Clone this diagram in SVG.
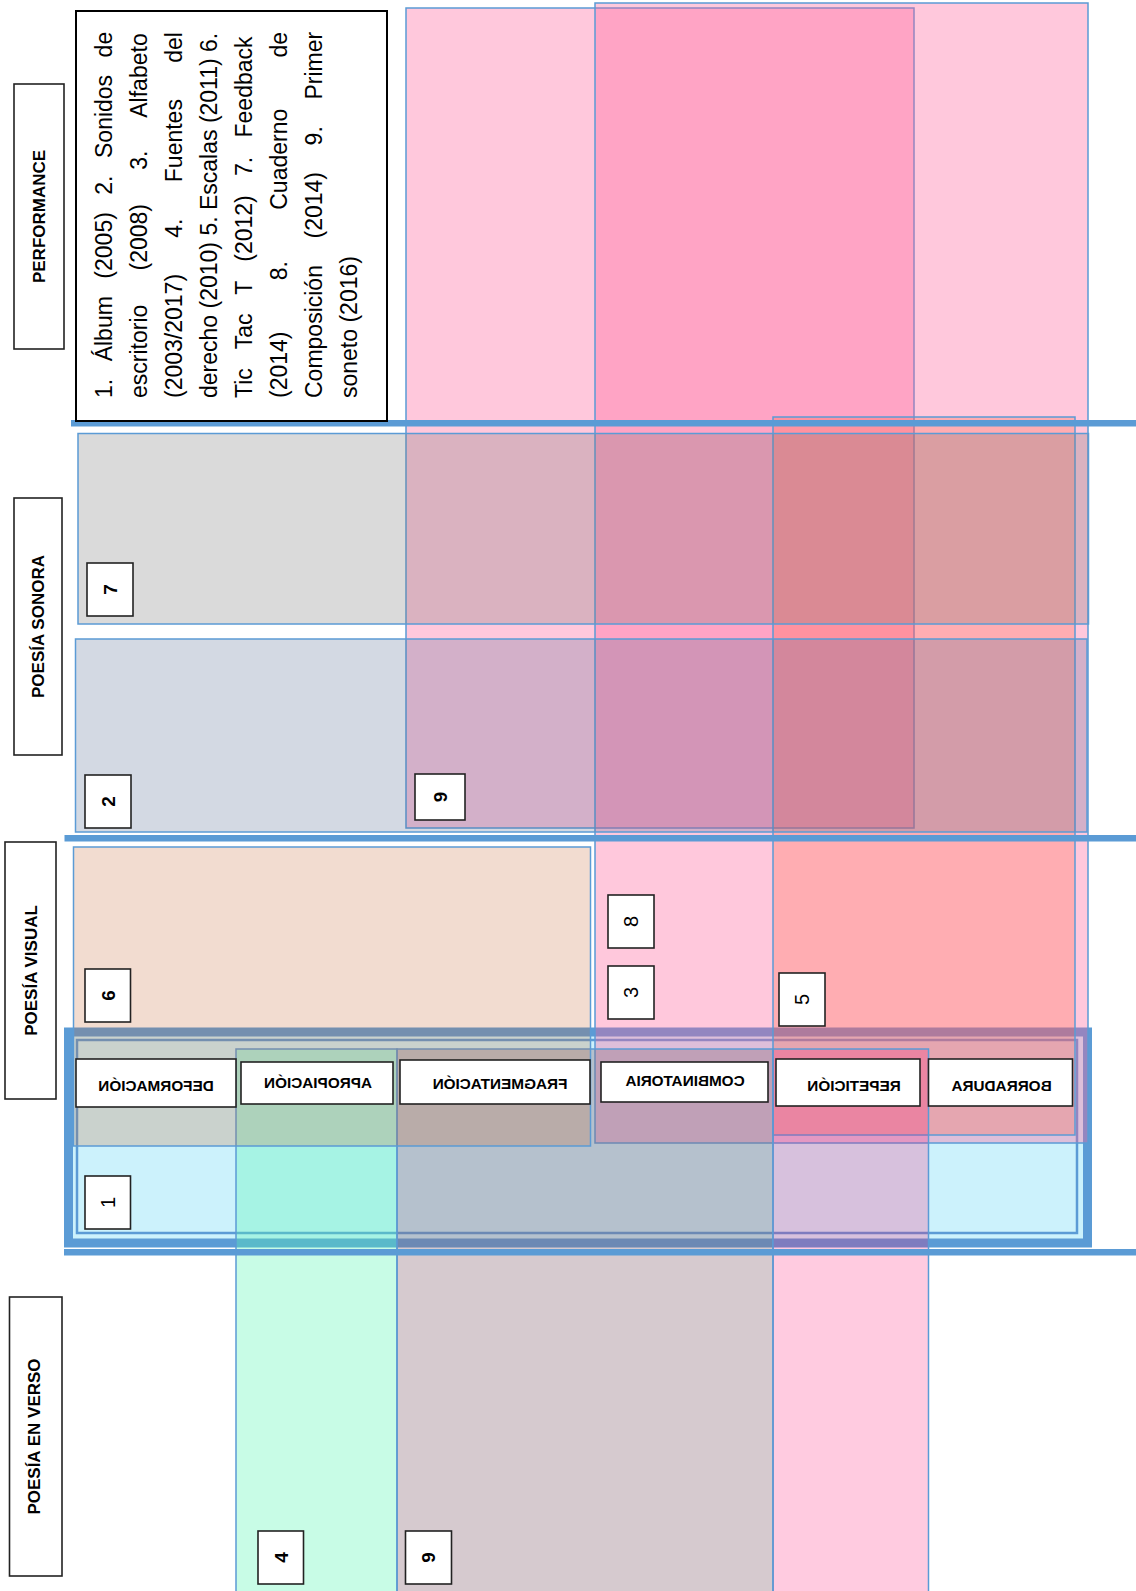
<svg xmlns="http://www.w3.org/2000/svg" width="1136" height="1591" viewBox="0 0 1136 1591">
<style>
.zone{stroke:#5B9BD5;stroke-width:1.5}
.lbl{fill:#fff;stroke:#222;stroke-width:1.6}
.num{fill:#fff;stroke:#222;stroke-width:1.6}
.band{fill:#5B9BD5}
.title{font-family:"Liberation Sans",Arial,sans-serif;font-weight:bold;font-size:17px;fill:#000}
.cat{font-family:"Liberation Sans",Arial,sans-serif;font-weight:bold;font-size:15.3px;fill:#000}
.nb{font-family:"Liberation Sans",Arial,sans-serif;font-weight:bold;font-size:19px;fill:#000}
.nr{font-family:"Liberation Sans",Arial,sans-serif;font-size:20px;fill:#000}
.body{font-family:"Liberation Sans",Arial,sans-serif;font-size:23px;fill:#000}
</style>
<rect width="1136" height="1591" fill="#fff"/>

<!-- frame (Poesía visual / verso boundary) -->
<g id="frame">
  <rect x="68.5" y="1032" width="1019" height="211" fill="#CCF2FC" stroke="#5B9BD5" stroke-width="9"/>
  <rect x="77" y="1040" width="1000" height="193" fill="none" stroke="#5B9BD5" stroke-width="2.5"/>
</g>

<!-- zones -->
<g id="zones">
  <rect id="zoneA" class="zone" x="406" y="8" width="508" height="820" fill="#FF609A" fill-opacity="0.345"/>
  <rect id="zoneB" class="zone" x="595" y="3" width="493" height="1140" fill="#FF609A" fill-opacity="0.345"/>
  <rect id="zoneC" class="zone" x="773" y="417" width="302" height="718" fill="#FF5A32" fill-opacity="0.25"/>
  <rect id="zoneD" class="zone" x="78" y="433.5" width="1010.5" height="190.5" fill="#767676" fill-opacity="0.27"/>
  <rect id="zoneE" class="zone" x="75.5" y="639" width="1011.5" height="193" fill="#536A91" fill-opacity="0.255"/>
  <rect id="zoneH" class="zone" x="236" y="1049" width="161" height="560" fill="#5AF6B4" fill-opacity="0.333"/>
  <rect id="zoneI" class="zone" x="397" y="1049" width="376" height="560" fill="#8B6977" fill-opacity="0.353"/>
  <rect id="zoneJ" class="zone" x="773" y="1049" width="155.5" height="560" fill="#FF0F6F" fill-opacity="0.216"/>
  <rect id="zoneF" class="zone" x="73.5" y="847" width="517" height="299" fill="#C66733" fill-opacity="0.23"/>
</g>

<!-- separators -->
<g id="connectors">
  <rect class="band" x="71" y="420" width="1065" height="6.5"/>
  <rect class="band" x="64.5" y="835" width="1071.5" height="6.5"/>
  <rect class="band" x="64" y="1249" width="1072" height="6.5"/>
</g>

<!-- row titles -->
<g id="t-performance">
  <rect class="lbl" x="14" y="84" width="50" height="265"/>
  <text class="title" transform="translate(39,216.5) rotate(-90)" x="0" y="6" text-anchor="middle">PERFORMANCE</text>
</g>
<g id="t-sonora">
  <rect class="lbl" x="14" y="498" width="48" height="257"/>
  <text class="title" transform="translate(38,626.5) rotate(-90)" x="0" y="6" text-anchor="middle">POESÍA SONORA</text>
</g>
<g id="t-visual">
  <rect class="lbl" x="5" y="842" width="51" height="257"/>
  <text class="title" transform="translate(30.5,970.5) rotate(-90)" x="0" y="6" text-anchor="middle">POESÍA VISUAL</text>
</g>
<g id="t-verso">
  <rect class="lbl" x="9.5" y="1297" width="52.5" height="279"/>
  <text class="title" transform="translate(34,1436.5) rotate(-90)" x="0" y="6" text-anchor="middle">POESÍA EN VERSO</text>
</g>

<!-- legend -->
<g id="legend">
  <rect x="76" y="11" width="311" height="410" fill="#fff" stroke="#000" stroke-width="2"/>
  <g class="body" transform="rotate(-90)">
    <text x="-398" y="112" word-spacing="11.1">1. Álbum (2005) 2. Sonidos de</text>
    <text x="-398" y="147" word-spacing="27.8">escritorio (2008) 3. Alfabeto</text>
    <text x="-398" y="182" word-spacing="29.9">(2003/2017) 4. Fuentes del</text>
    <text x="-398" y="217" word-spacing="0">derecho (2010) 5. Escalas (2011) 6.</text>
    <text x="-398" y="252" word-spacing="12.9">Tic Tac T (2012) 7. Feedback</text>
    <text x="-398" y="287" word-spacing="44.9">(2014) 8. Cuaderno de</text>
    <text x="-398" y="322" word-spacing="20.2">Composición (2014) 9. Primer</text>
    <text x="-398" y="357">soneto (2016)</text>
  </g>
</g>

<!-- category labels (mirrored) -->
<g id="c-deformacion">
  <rect class="lbl" x="76" y="1059" width="160" height="48"/>
  <text class="cat" transform="translate(156,1085) scale(-1,1)" x="0" y="5.5" text-anchor="middle">DEFORMACIÓN</text>
</g>
<g id="c-apropiacion">
  <rect class="lbl" x="241" y="1062" width="152" height="42"/>
  <text class="cat" transform="translate(318,1082) scale(-1,1)" x="0" y="5.5" text-anchor="middle">APROPIACIÓN</text>
</g>
<g id="c-fragmentacion">
  <rect class="lbl" x="400" y="1060" width="190" height="44"/>
  <text class="cat" transform="translate(500,1083) scale(-1,1)" x="0" y="5.5" text-anchor="middle">FRAGMENTACIÓN</text>
</g>
<g id="c-combinatoria">
  <rect class="lbl" x="601" y="1062" width="167" height="40"/>
  <text class="cat" transform="translate(685,1080) scale(-1,1)" x="0" y="5.5" text-anchor="middle">COMBINATORIA</text>
</g>
<g id="c-repeticion">
  <rect class="lbl" x="776" y="1059" width="144" height="47"/>
  <text class="cat" transform="translate(854,1085) scale(-1,1)" x="0" y="5.5" text-anchor="middle">REPETICIÓN</text>
</g>
<g id="c-borradura">
  <rect class="lbl" x="928.5" y="1059" width="144" height="47"/>
  <text class="cat" transform="translate(1001.5,1085) scale(-1,1)" x="0" y="5.5" text-anchor="middle">BORRADURA</text>
</g>

<!-- number tags -->
<g id="n7"><rect class="num" x="87" y="563" width="46" height="53"/><text class="nb" transform="translate(110,589.5) rotate(-90)" x="0" y="6.8" text-anchor="middle">7</text></g>
<g id="n2"><rect class="num" x="85" y="775" width="46" height="53"/><text class="nb" transform="translate(108,801.5) rotate(-90)" x="0" y="6.8" text-anchor="middle">2</text></g>
<g id="n9s"><rect class="num" x="415" y="774" width="50" height="46"/><text class="nb" transform="translate(440,797) rotate(-90)" x="0" y="6.8" text-anchor="middle">9</text></g>
<g id="n6"><rect class="num" x="85" y="969" width="45.5" height="53"/><text class="nb" transform="translate(107.75,995.5) rotate(-90)" x="0" y="6.8" text-anchor="middle">6</text></g>
<g id="n1"><rect class="num" x="85" y="1176" width="45.5" height="53"/><text class="nr" transform="translate(107.75,1202.5) rotate(-90)" x="0" y="7.2" text-anchor="middle">1</text></g>
<g id="n8"><rect class="num" x="608" y="895" width="46" height="53"/><text class="nr" transform="translate(631,921.5) rotate(-90)" x="0" y="7.2" text-anchor="middle">8</text></g>
<g id="n3"><rect class="num" x="608" y="966" width="46" height="53"/><text class="nr" transform="translate(631,992.5) rotate(-90)" x="0" y="7.2" text-anchor="middle">3</text></g>
<g id="n5"><rect class="num" x="779" y="973" width="46" height="53"/><text class="nr" transform="translate(802,999.5) rotate(-90)" x="0" y="7.2" text-anchor="middle">5</text></g>
<g id="n4"><rect class="num" x="258" y="1531" width="45.5" height="53"/><text class="nb" transform="translate(280.75,1557.5) rotate(-90)" x="0" y="6.8" text-anchor="middle">4</text></g>
<g id="n9v"><rect class="num" x="405.5" y="1531" width="46" height="53"/><text class="nb" transform="translate(428.5,1557.5) rotate(-90)" x="0" y="6.8" text-anchor="middle">9</text></g>
</svg>
